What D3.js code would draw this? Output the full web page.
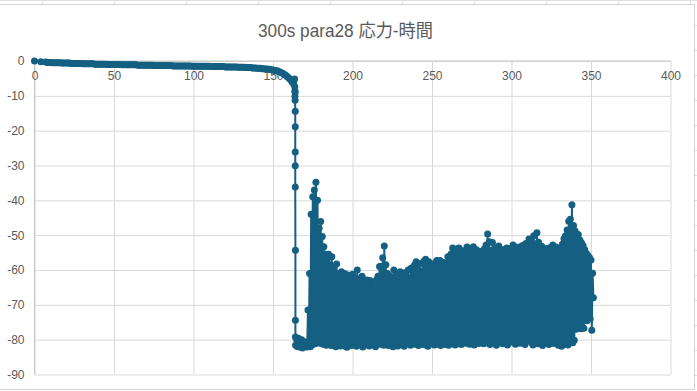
<!DOCTYPE html>
<html>
<head>
<meta charset="utf-8">
<script src="https://cdnjs.cloudflare.com/ajax/libs/d3/7.8.5/d3.min.js"></script>
<style>
    body { margin: 0; background: #ffffff; }
    #chart-area { width: 697px; height: 391px; }
</style>
</head>
<body>
<div id="chart-area"></div>
<script>

var chartTitle = "300s para28 応力-時間";
var xTicks = [0, 50, 100, 150, 200, 250, 300, 350, 400];
var yTicks = [0, -10, -20, -30, -40, -50, -60, -70, -80, -90];

// first two readings
var startTime = [0, 4];
var startStress = [0, -0.2];

// slow creep, one reading per second from t = 7
var creepStart = 7;
var creepStress = [
    -0.3,-0.4,-0.4,-0.4,-0.5,-0.5,-0.5,-0.5,-0.5,-0.5,
    -0.6,-0.6,-0.6,-0.6,-0.6,-0.6,-0.7,-0.7,-0.7,-0.7,
    -0.7,-0.7,-0.7,-0.8,-0.8,-0.8,-0.8,-0.8,-0.8,-0.8,
    -0.8,-0.9,-0.9,-0.9,-0.9,-0.9,-0.9,-0.9,-0.9,-1.0,
    -1.0,-1.0,-1.0,-1.0,-1.0,-1.0,-1.0,-1.0,-1.1,-1.1,
    -1.1,-1.1,-1.1,-1.1,-1.1,-1.1,-1.1,-1.1,-1.2,-1.2,
    -1.2,-1.2,-1.2,-1.2,-1.2,-1.2,-1.2,-1.2,-1.3,-1.3,
    -1.3,-1.3,-1.3,-1.3,-1.3,-1.3,-1.3,-1.3,-1.3,-1.3,
    -1.4,-1.4,-1.4,-1.4,-1.4,-1.4,-1.4,-1.4,-1.4,-1.4,
    -1.4,-1.4,-1.5,-1.5,-1.5,-1.5,-1.5,-1.5,-1.5,-1.5,
    -1.5,-1.5,-1.5,-1.5,-1.6,-1.6,-1.6,-1.6,-1.6,-1.6,
    -1.6,-1.6,-1.6,-1.7,-1.7,-1.7,-1.7,-1.7,-1.7,-1.7,
    -1.7,-1.8,-1.8,-1.8,-1.8,-1.8,-1.9,-1.9,-1.9,-1.9,
    -2.0,-2.0,-2.0,-2.1,-2.1,-2.1,-2.2,-2.2,-2.3,-2.3,
    -2.4,-2.4,-2.5,-2.6,-2.7,-2.8,-2.9,-3.1,-3.3,-3.5,
    -3.8,-4.1,-4.5,-4.9,-5.4,-6.0,-6.6
];

// the collapse
var dropTime = [163.6, 163.7, 163.8, 163.8, 163.9, 163.9, 164.0, 164.0, 164.0, 164.0, 164.0, 164.1, 164.1, 164.1, 164.2];
var dropStress = [-5.2, -7.4, -8.6, -10.1, -9.0, -11.3, -14.4, -18.9, -26.1, -30.1, -36.2, -54.3, -74.4, -79.2, -81.6];

// oscillating tail: per second a high reading, then a low reading half a second later
var tailStart = 165;
var tailHigh = [
    -80.2,-79.6,-80.4,-80.0,-80.8,-80.6,-80.9,-71.5,-61.0,-44.0,
    -39.0,-37.0,-34.8,-40.0,-48.0,-46.1,-50.4,-53.3,-55.5,-57.0,
    -55.5,-58.5,-56.2,-59.5,-60.8,-58.3,-61.5,-62.5,-60.5,-63.0,
    -61.0,-62.2,-61.4,-63.5,-62.0,-61.2,-63.8,-62.4,-60.0,-62.6,
    -64.0,-61.8,-63.2,-65.0,-62.9,-64.2,-63.0,-64.8,-63.5,-65.4,
    -62.9,-61.8,-59.0,-59.0,-56.5,-53.1,-58.5,-61.0,-62.0,-61.9,
    -63.0,-60.0,-62.5,-61.2,-63.4,-60.5,-61.6,-62.8,-60.8,-61.9,
    -60.0,-62.2,-59.4,-60.6,-58.6,-57.6,-59.8,-58.2,-60.4,-58.0,
    -57.4,-56.9,-58.8,-57.6,-59.7,-58.4,-59.1,-58.0,-57.3,-59.0,
    -57.3,-58.6,-57.8,-59.4,-58.1,-56.2,-57.0,-55.4,-53.7,-54.7,
    -55.6,-53.9,-53.7,-55.8,-54.5,-56.4,-54.9,-53.4,-55.2,-54.0,
    -56.0,-53.3,-55.4,-54.2,-55.1,-56.3,-54.6,-55.8,-53.9,-52.8,
    -49.7,-51.9,-54.4,-52.1,-55.0,-53.6,-54.8,-53.1,-55.5,-54.1,
    -55.7,-54.3,-53.7,-55.2,-53.9,-54.6,-52.8,-54.9,-53.5,-55.4,
    -53.4,-54.7,-53.0,-54.2,-52.4,-53.6,-51.1,-53.8,-52.0,-50.2,
    -52.5,-49.3,-52.0,-54.6,-53.2,-54.3,-55.6,-53.8,-55.0,-53.6,
    -54.5,-52.8,-54.9,-53.4,-55.3,-54.0,-54.3,-52.6,-51.0,-50.2,
    -48.5,-46.0,-45.4,-41.3,-47.2,-48.8,-50.6,-49.8,-51.4,-52.2,
    -53.0,-54.1,-55.2,-55.8,-56.4,-57.1,-60.9
];
var tailLow = [
    -82.0,-81.8,-82.2,-82.4,-82.0,-81.9,-82.1,-81.8,-82.0,-81.5,
    -80.8,-81.2,-80.5,-79.8,-81.0,-80.6,-81.3,-80.9,-81.6,-80.4,
    -81.2,-81.7,-80.8,-81.5,-82.0,-81.1,-80.7,-81.8,-81.4,-80.9,
    -81.9,-82.2,-81.0,-80.6,-81.7,-81.3,-80.5,-81.9,-81.2,-80.8,
    -81.6,-82.1,-80.9,-81.4,-80.7,-81.8,-81.1,-80.6,-81.5,-82.0,
    -81.0,-80.4,-81.3,-80.8,-81.6,-81.2,-80.5,-81.7,-80.9,-81.4,
    -82.0,-81.1,-80.6,-81.8,-81.3,-80.7,-81.5,-81.9,-80.8,-81.2,
    -80.6,-81.6,-81.0,-80.4,-81.3,-80.9,-81.7,-81.1,-80.5,-81.4,
    -80.8,-81.6,-81.9,-80.7,-81.2,-80.6,-81.5,-80.9,-81.3,-80.5,
    -81.7,-81.0,-80.4,-81.4,-80.8,-81.6,-80.6,-81.1,-80.3,-81.5,
    -80.7,-81.2,-80.1,-81.4,-80.6,-79.9,-81.0,-80.4,-81.3,-79.6,
    -80.8,-81.5,-80.2,-79.7,-81.1,-80.5,-79.8,-81.2,-80.6,-79.4,
    -80.9,-81.4,-80.0,-79.5,-80.8,-81.6,-80.3,-79.2,-80.7,-81.2,
    -79.6,-80.4,-81.5,-79.9,-80.6,-79.3,-80.9,-81.3,-79.7,-80.2,
    -81.0,-79.5,-80.7,-81.4,-79.8,-80.3,-79.1,-80.8,-81.5,-79.6,
    -80.4,-81.2,-79.4,-80.9,-81.7,-80.0,-79.3,-80.6,-81.4,-79.8,
    -80.5,-81.1,-79.5,-80.8,-81.6,-80.2,-81.9,-80.7,-81.3,-80.1,
    -81.5,-80.6,-79.7,-80.9,-80.2,-77.0,-76.5,-75.8,-76.9,-76.7,
    -76.7,-73.5,-74.6,-72.8,-74.0,-77.3,-68.0
];


stressChart = function(_parentElement) {
    this.parentElement = _parentElement;
    this.initVis();
};

stressChart.prototype.initVis = function() {
    var vis = this;

    vis.fullWidth = 697;
    vis.fullHeight = 391;
    vis.margin = { top: 61, right: 26.5, bottom: 16.5, left: 34.5 };
    vis.width = vis.fullWidth - vis.margin.left - vis.margin.right;
    vis.height = vis.fullHeight - vis.margin.top - vis.margin.bottom;

    vis.color = "#156082";
    vis.textColor = "#595959";

    vis.svgRoot = d3.select("#" + vis.parentElement).append("svg")
        .attr("width", vis.fullWidth)
        .attr("height", vis.fullHeight)
        .style("display", "block");

    vis.drawSheet();

    vis.svg = vis.svgRoot.append("g")
        .attr("transform", "translate(" + vis.margin.left + "," + vis.margin.top + ")");

    vis.x = d3.scaleLinear().domain([0, 400]).range([0, vis.width]);
    vis.y = d3.scaleLinear().domain([-90, 0]).range([vis.height, 0]);

    vis.wrangleData();
};

// spreadsheet cell lines and the chart frame around the plot
stressChart.prototype.drawSheet = function() {
    var vis = this;
    var sheet = vis.svgRoot.append("g").attr("class", "sheet");

    sheet.append("line")
        .attr("x1", 0).attr("x2", vis.fullWidth)
        .attr("y1", 0.5).attr("y2", 0.5)
        .style("stroke", "#e1e1e1");

    sheet.selectAll("line.col")
        .data([42, 114, 186, 258, 330, 402, 474, 546, 618, 690])
        .enter().append("line")
        .attr("class", "col")
        .attr("x1", function(d) { return d + 0.5; })
        .attr("x2", function(d) { return d + 0.5; })
        .attr("y1", 0).attr("y2", 4)
        .style("stroke", "#e1e1e1");

    sheet.selectAll("line.row")
        .data(d3.range(25, 391, 25))
        .enter().append("line")
        .attr("class", "row")
        .attr("x1", 695).attr("x2", vis.fullWidth)
        .attr("y1", function(d) { return d + 0.5; })
        .attr("y2", function(d) { return d + 0.5; })
        .style("stroke", "#e1e1e1");

    sheet.append("path")
        .attr("d", "M-1,4.5H694.5V389.5H-1")
        .style("fill", "none")
        .style("stroke", "#d4d4d4");
};

stressChart.prototype.wrangleData = function() {
    var vis = this;

    vis.displayData = [];
    startTime.forEach(function(t, i) {
        vis.displayData.push({ t: t, v: startStress[i] });
    });
    creepStress.forEach(function(v, i) {
        vis.displayData.push({ t: creepStart + i, v: v });
    });
    dropTime.forEach(function(t, i) {
        vis.displayData.push({ t: t, v: dropStress[i] });
    });
    tailHigh.forEach(function(v, i) {
        vis.displayData.push({ t: tailStart + i, v: v });
        vis.displayData.push({ t: tailStart + i + 0.5, v: tailLow[i] });
    });

    vis.updateVis();
};

stressChart.prototype.updateVis = function() {
    var vis = this;

    // horizontal gridlines
    vis.svg.append("g")
        .attr("class", "y-grid")
        .call(d3.axisLeft(vis.y).tickValues(yTicks).tickSize(-vis.width).tickFormat(""))
        .call(function(g) { g.select(".domain").remove(); })
        .selectAll("line")
        .style("stroke", "#d9d9d9");

    // vertical gridlines
    vis.svg.append("g")
        .attr("class", "x-grid")
        .call(d3.axisBottom(vis.x).tickValues(xTicks).tickSize(vis.height).tickFormat(""))
        .call(function(g) { g.select(".domain").remove(); })
        .selectAll("line")
        .style("stroke", "#d9d9d9");

    // axis lines (x axis crosses at 0, at the top)
    vis.svg.append("line")
        .attr("x1", 0).attr("x2", vis.width)
        .attr("y1", vis.y(0)).attr("y2", vis.y(0))
        .style("stroke", "#c6c6c6");
    vis.svg.append("line")
        .attr("x1", vis.x(0)).attr("x2", vis.x(0))
        .attr("y1", 0).attr("y2", vis.height)
        .style("stroke", "#c6c6c6");

    vis.yAxis = vis.svg.append("g")
        .attr("class", "y-axis")
        .call(d3.axisLeft(vis.y).tickValues(yTicks).tickSize(0).tickPadding(10)
            .tickFormat(function(d) { return String(d); }));
    vis.xAxis = vis.svg.append("g")
        .attr("class", "x-axis")
        .attr("transform", "translate(0," + vis.y(0) + ")")
        .call(d3.axisBottom(vis.x).tickValues(xTicks).tickSize(0).tickPadding(10)
            .tickFormat(function(d) { return String(d); }));

    vis.svg.selectAll(".y-axis .domain, .x-axis .domain").remove();
    vis.svg.selectAll(".y-axis text, .x-axis text")
        .style("font-family", "'Liberation Sans Narrow', 'Liberation Sans', Arial, sans-serif")
        .style("font-size", "12px")
        .style("fill", vis.textColor);

    vis.line = d3.line()
        .x(function(d) { return vis.x(d.t); })
        .y(function(d) { return vis.y(d.v); });

    vis.svg.append("path")
        .datum(vis.displayData)
        .attr("class", "series")
        .attr("d", vis.line)
        .style("fill", "none")
        .style("stroke", vis.color)
        .style("stroke-width", 2)
        .style("stroke-linejoin", "round");

    vis.svg.selectAll("circle.marker")
        .data(vis.displayData)
        .enter().append("circle")
        .attr("class", "marker")
        .attr("cx", function(d) { return vis.x(d.t); })
        .attr("cy", function(d) { return vis.y(d.v); })
        .attr("r", 3.5)
        .style("fill", vis.color);

    vis.svgRoot.append("text")
        .attr("x", 345.5)
        .attr("y", 37)
        .attr("text-anchor", "middle")
        .attr("textLength", 175)
        .attr("lengthAdjust", "spacingAndGlyphs")
        .style("font-family", "'Liberation Sans Narrow', 'Liberation Sans', 'Noto Sans CJK JP', sans-serif")
        .style("font-size", "18.7px")
        .style("fill", vis.textColor)
        .text(chartTitle);
};

new stressChart("chart-area");
</script>
</body>
</html>
